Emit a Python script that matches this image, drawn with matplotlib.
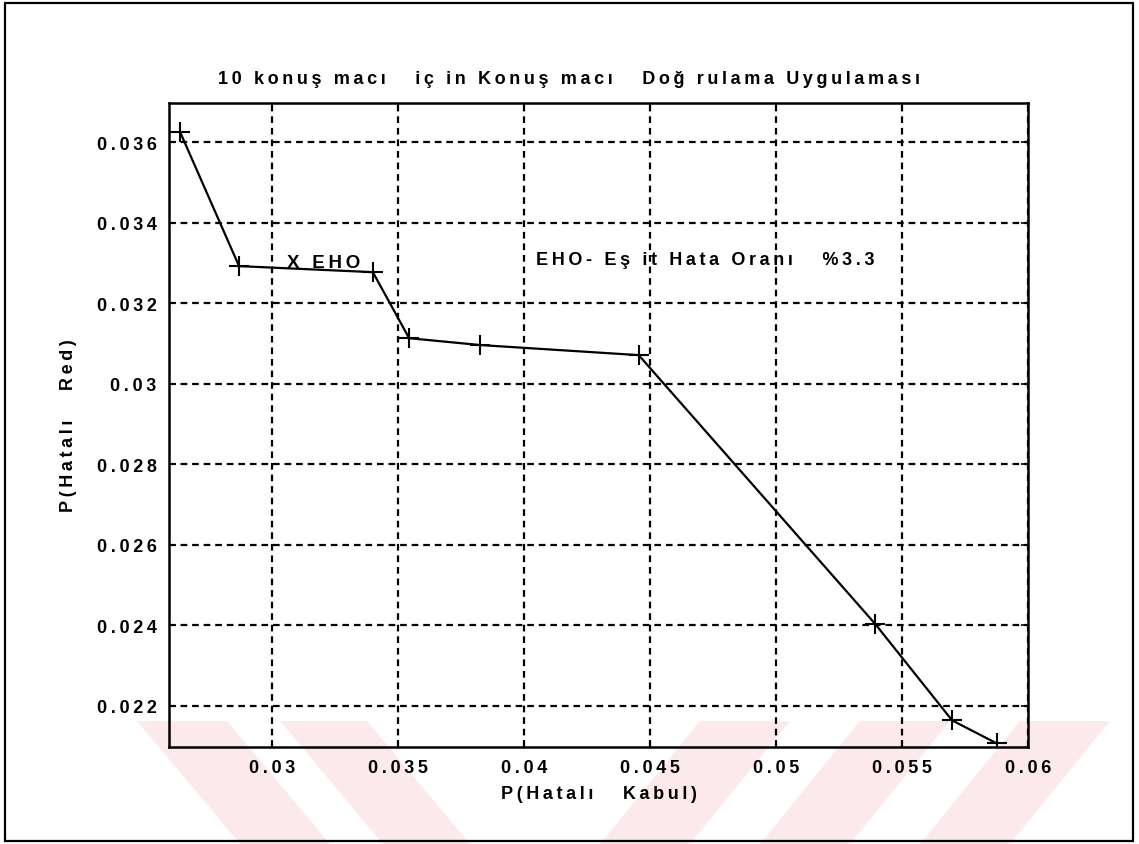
import numpy as np
import matplotlib
matplotlib.use("Agg")
import matplotlib.pyplot as plt
from matplotlib.patches import Rectangle, Polygon

plt.rcParams['font.family'] = ['Liberation Sans', 'DejaVu Sans']

# P(Hatali Kabul) / P(Hatali Red) pairs
far = [0.02635, 0.02869, 0.0340, 0.03544, 0.03826, 0.04455, 0.05393, 0.05699, 0.05876]
frr = [0.03625, 0.03292, 0.03277, 0.03113, 0.03096, 0.03071, 0.02404, 0.02164, 0.02107]

xticks = [0.03, 0.035, 0.04, 0.045, 0.05, 0.055, 0.06]
yticks = [0.022, 0.024, 0.026, 0.028, 0.03, 0.032, 0.034, 0.036]

title = "10 konuş macı   iç in Konuş macı   Doğ rulama Uygulaması"
xlab = "P(Hatalı   Kabul)"
ylab = "P(Hatalı   Red)"
eho_mark = "X EHO"
eho_note = "EHO- Eş it Hata Oranı   %3.3"


def spaced(s):
    # loose tracking, as in the printed figure
    return "\u2009".join(s)


W, H = 1139, 845
fig = plt.figure(figsize=(W / 100, H / 100), dpi=100)
fig.patch.set_facecolor("white")

# outer frame
fig.add_artist(Rectangle((5 / W, 3 / H), 1128 / W, 838 / H, transform=fig.transFigure,
                         fill=False, edgecolor="black", linewidth=1.6))

# faint pink stripes along the bottom
pink = "#fce9eb"
stripes = [
    [(137, 722), (227, 722), (330, 845), (240, 845)],
    [(280, 722), (367, 722), (470, 845), (383, 845)],
    [(700, 722), (790, 722), (690, 845), (600, 845)],
    [(860, 722), (950, 722), (850, 845), (760, 845)],
    [(1020, 722), (1110, 722), (1010, 845), (920, 845)],
]
for s in stripes:
    fig.add_artist(Polygon([(x / W, 1 - y / H) for x, y in s], closed=True,
                           transform=fig.transFigure, facecolor=pink,
                           edgecolor="none", zorder=0))

ax = fig.add_axes([169 / W, 97 / H, 859 / W, 644 / H])
ax.set_facecolor("none")

ax.plot(far, frr, color="black", linewidth=1.6, marker="+", markersize=15,
        markeredgewidth=1.5, zorder=3)

ax.set_xlim(0.02591, 0.06)
ax.set_ylim(0.02098, 0.03697)
ax.set_xticks(xticks)
ax.set_yticks(yticks)
ax.set_xticklabels([spaced("%g" % v) for v in xticks])
ax.set_yticklabels([spaced("%g" % v) for v in yticks])

ax.grid(True, color="black", linestyle=(0, (3, 2.2)), linewidth=1.6)
ax.tick_params(direction="in", length=5, width=1.2, top=True, right=True,
               labelsize=13, pad=9)
for lbl in ax.get_xticklabels() + ax.get_yticklabels():
    lbl.set_fontweight("bold")
for sp in ax.spines.values():
    sp.set_linewidth(1.8)

ax.set_xlabel(spaced(xlab), fontsize=13, fontweight="bold", labelpad=6)
ax.set_ylabel(spaced(ylab), fontsize=13, fontweight="bold", labelpad=14)
fig.text(0.5, 1 - 80 / H, spaced(title), ha="center", va="center", fontsize=13,
         fontweight="bold")

ax.text(0.03059, 0.03302, spaced(eho_mark), ha="left", va="center", fontsize=13.5,
        fontweight="bold")
ax.text(0.04048, 0.03308, spaced(eho_note), ha="left", va="center", fontsize=13,
        fontweight="bold")

fig.savefig("out.png", dpi=100)
